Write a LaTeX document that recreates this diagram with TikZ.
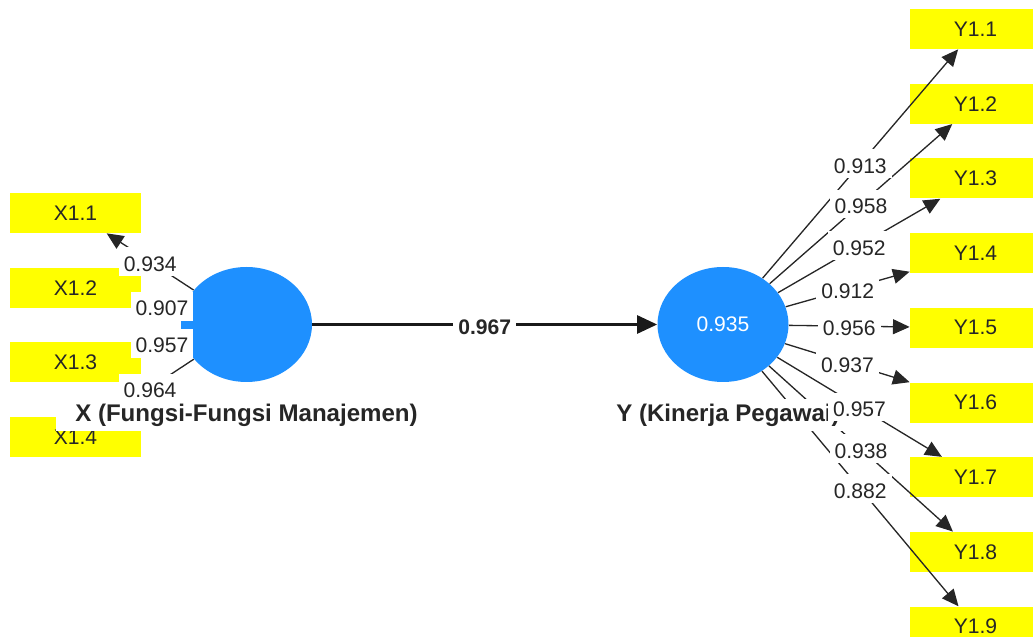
\documentclass[tikz,border=0pt]{standalone}
\usepackage{fontspec}
\setmainfont{Liberation Sans}
\usetikzlibrary{shapes.geometric, arrows.meta, positioning}

\definecolor{lvblue}{RGB}{30,144,255}
\definecolor{indyellow}{RGB}{255,255,0}

\begin{document}
\begin{tikzpicture}[
    node distance=0.68cm,
    indicator/.style={rectangle, fill=indyellow, minimum width=2.62cm, minimum height=0.8cm, inner sep=0pt, font=\fontsize{12}{14}\selectfont, text=black!85},
    latent/.style={ellipse, fill=lvblue, minimum width=2.62cm, minimum height=2.3cm, inner sep=0pt, font=\fontsize{12}{14}\selectfont, text=white},
    lvname/.style={fill=white, inner xsep=11pt, inner ysep=2.75pt, text height=10pt, text depth=2.9pt, font=\bfseries\fontsize{13.7}{16}\selectfont, text=black!85},
    loading/.style={fill=white, inner xsep=2.8pt, inner ysep=2.7pt, text height=10.9pt, text depth=0pt, font=\fontsize{12}{14}\selectfont, text=black!85},
    arrow/.style={-{Triangle[length=9.5pt, width=8.5pt]}, line width=0.75pt, draw=black!85},
    patharrow/.style={-{Triangle[length=11.4pt, width=10.2pt]}, line width=1.7pt, draw=black!90},
]
\useasboundingbox (0,0) rectangle (20.66,-12.74);

% indicators of X
\node[indicator] (X11) at (1.51,-4.26) {X1.1};
\node[indicator, below=of X11] (X12) {X1.2};
\node[indicator, below=of X12] (X13) {X1.3};
\node[indicator, below=of X13] (X14) {X1.4};

% indicators of Y
\node[indicator] (Y11) at (19.51,-0.58) {Y1.1};
\node[indicator, below=of Y11] (Y12) {Y1.2};
\node[indicator, below=of Y12] (Y13) {Y1.3};
\node[indicator, below=of Y13] (Y14) {Y1.4};
\node[indicator, below=of Y14] (Y15) {Y1.5};
\node[indicator, below=of Y15] (Y16) {Y1.6};
\node[indicator, below=of Y16] (Y17) {Y1.7};
\node[indicator, below=of Y17] (Y18) {Y1.8};
\node[indicator, below=of Y18] (Y19) {Y1.9};

% latent variables
\node[latent] (X) at (4.93,-6.49) {};
\node[latent] (Y) at (14.46,-6.49) {0.935};

% outer loadings
\draw[arrow] (X) -- (X11);
\draw[arrow] (X) -- (X12);
\draw[arrow] (X) -- (X13);
\draw[arrow] (X) -- (X14);
\draw[arrow] (Y) -- (Y11);
\draw[arrow] (Y) -- (Y12);
\draw[arrow] (Y) -- (Y13);
\draw[arrow] (Y) -- (Y14);
\draw[arrow] (Y) -- (Y15);
\draw[arrow] (Y) -- (Y16);
\draw[arrow] (Y) -- (Y17);
\draw[arrow] (Y) -- (Y18);
\draw[arrow] (Y) -- (Y19);

% path coefficient
\draw[patharrow] (X) -- node[loading, font=\bfseries\fontsize{12}{14}\selectfont] {0.967} (Y);

% names under the circles
\node[lvname, below=0.32cm of X] (Xname) {X (Fungsi-Fungsi Manajemen)};
\node[lvname, below=0.32cm of Y, xshift=0.1cm] (Yname) {Y (Kinerja Pegawai)};

% loading values
\path (X) -- node[loading] {0.934} (X11);
\path (X) -- node[loading] {0.907} (X12);
\path (X) -- node[loading] {0.957} (X13);
\path (X) -- node[loading] {0.964} (X14);
\path (Y) -- node[loading] {0.913} (Y11);
\path (Y) -- node[loading] {0.958} (Y12);
\path (Y) -- node[loading] {0.952} (Y13);
\path (Y) -- node[loading] {0.912} (Y14);
\path (Y) -- node[loading] {0.956} (Y15);
\path (Y) -- node[loading] {0.937} (Y16);
\path (Y) -- node[loading] {0.957} (Y17);
\path (Y) -- node[loading] {0.938} (Y18);
\path (Y) -- node[loading] {0.882} (Y19);

\end{tikzpicture}
\end{document}
